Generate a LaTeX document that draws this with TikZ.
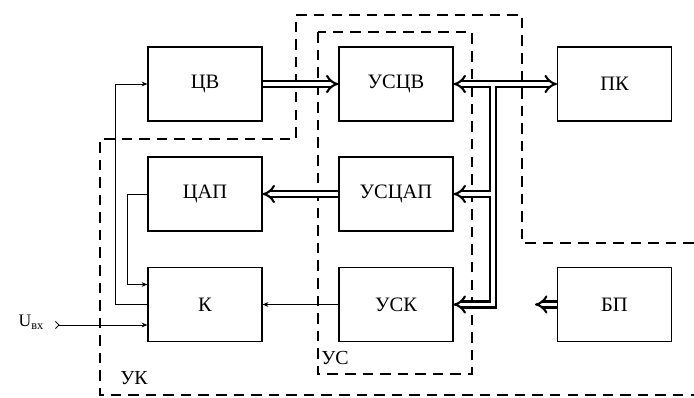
\documentclass[tikz,border=0pt]{standalone}
\usepackage{fontspec}
\setmainfont{Liberation Serif}
\usetikzlibrary{arrows.meta,calc}

\begin{document}
\begin{tikzpicture}[
  x=0.03cm,
  y=-0.03cm,
  >={Stealth[length=5pt,width=4pt]},
  block/.style={draw, line width=0.9pt, minimum width=3.42cm, minimum height=2.22cm, font=\fontsize{17.5}{20}\selectfont},
  bus/.style={double, line width=1.8pt, double distance=3.4pt},
  wire/.style={line width=0.8pt},
  zone/.style={dashed, line width=1.6pt, dash pattern=on 9pt off 6pt},
  subzone/.style={dashed, line width=0.9pt, dash pattern=on 9pt off 6pt},
  tag/.style={font=\fontsize{17}{20}\selectfont}
]
  \useasboundingbox (0,0) rectangle (694,398);

  \node[block] (cv) at (205,84) {ЦВ};
  \node[block] (uscv) at (396,84) {УСЦВ};
  \node[block] (pk) at (614.5,84) {ПК};
  \node[block] (dac) at (205,194) {ЦАП};
  \node[block] (uscap) at (396,194) {УСЦАП};
  \node[block] (k) at (205,304.5) {К};
  \node[block] (usk) at (396,304.5) {УСК};
  \node[block] (bp) at (614.5,304.5) {БП};

  % dashed zones
  \draw[zone] (694,243) -- (522,243) -- (522,15) -- (296,15) -- (296,139) -- (100,139) -- (100,395) -- (694,395);
  \draw[subzone] (318,32) rectangle (472,374);
  \node[tag] (uk) at (134,378) {УК};
  \node[tag] (us) at (335,358) {УС};

  % bus
  \coordinate (jtop) at (493,84);
  \coordinate (jmid) at (493,194);
  \coordinate (jbot) at (493,304.5);
  \coordinate (e1) at ($(uscv.east)+(10,0)$);
  \coordinate (e2) at ($(pk.west)+(-10,0)$);
  \coordinate (e3) at ($(uscap.east)+(10,0)$);
  \coordinate (e4) at ($(usk.east)+(10,0)$);
  \draw[bus] (e1) -- (e2) (jtop) -- (jbot) -- (e4) (jmid) -- (e3);
  \draw[bus,-Implies] (e1) -- (uscv.east);
  \draw[bus,-Implies] (e2) -- (pk.west);
  \draw[bus,-Implies] (e3) -- (uscap.east);
  \draw[bus,-Implies] (e4) -- (usk.east);

  \draw[bus,-Implies] (cv.east) -- (uscv.west);
  \draw[bus,-Implies] (uscap.west) -- (dac.east);
  \coordinate (bpout) at (535,304.5);
  \draw[bus,-Implies] (bp.west) -- (bpout);

  % single lines
  \draw[wire,->] (usk.west) -- (k.east);
  \draw[wire,->] (k.west) -- ++(-32,0) |- (cv.west);
  \draw[wire,->] (dac.west) -- ++(-20,0) |- ($(k.west)+(0,-20)$);
  \coordinate (uin) at (55,325);
  \node[tag, anchor=east, font=\fontsize{15}{18}\selectfont] (uvx) at (48,322) {U\textsubscript{вх}};
  \draw[wire,{Straight Barb[reversed,length=3pt,width=6pt]}->] (uin) -- ($(k.west)+(0,20.5)$);
\end{tikzpicture}
\end{document}
